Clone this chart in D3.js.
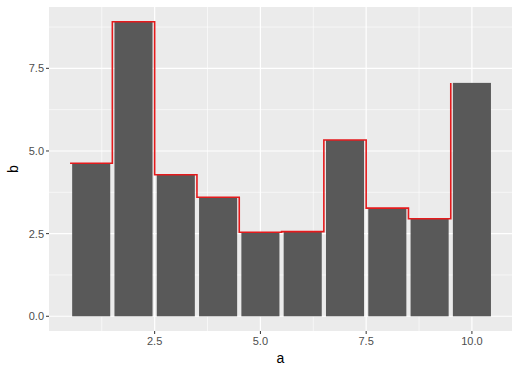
<!DOCTYPE html>
<html>
<head>
    <script src="https://cdnjs.cloudflare.com/ajax/libs/d3/7.8.5/d3.min.js"></script>
    <style>
        body { margin: 0; background: #fff; }
        text { font-family: "Liberation Sans", Arial, sans-serif; }
    </style>
</head>
<body>
    <svg id="chart" width="519" height="371"></svg>
    <script>
        // data
        var a = [1, 2, 3, 4, 5, 6, 7, 8, 9, 10]
        var b = [4.63, 8.91, 4.28, 3.60, 2.54, 2.56, 5.33, 3.27, 2.95, 7.06]
        var xTicks = [2.5, 5.0, 7.5, 10.0]
        var yTicks = [0.0, 2.5, 5.0, 7.5]
        var xMinor = [1.25, 3.75, 6.25, 8.75]
        var yMinor = [1.25, 3.75, 6.25, 8.75]

        var svg = d3.select("#chart")
        var panel = { left: 49, right: 512, top: 7, bottom: 331 }

        var x = d3.scaleLinear().domain([0.0025, 10.9475]).range([panel.left, panel.right])
        var y = d3.scaleLinear().domain([-0.4455, 9.3555]).range([panel.bottom, panel.top])

        svg.append("rect")
            .attr("x", panel.left).attr("y", panel.top)
            .attr("width", panel.right - panel.left)
            .attr("height", panel.bottom - panel.top)
            .style("fill", "#ebebeb")

        var grid = svg.append("g")
        grid.selectAll("line.ymin").data(yMinor).enter().append("line")
            .attr("x1", panel.left).attr("x2", panel.right)
            .attr("y1", d => y(d)).attr("y2", d => y(d))
            .style("stroke", "#fff").style("stroke-width", 0.6)
        grid.selectAll("line.xmin").data(xMinor).enter().append("line")
            .attr("y1", panel.top).attr("y2", panel.bottom)
            .attr("x1", d => x(d)).attr("x2", d => x(d))
            .style("stroke", "#fff").style("stroke-width", 0.6)
        grid.selectAll("line.ymaj").data(yTicks).enter().append("line")
            .attr("x1", panel.left).attr("x2", panel.right)
            .attr("y1", d => y(d)).attr("y2", d => y(d))
            .style("stroke", "#fff").style("stroke-width", 1.2)
        grid.selectAll("line.xmaj").data(xTicks).enter().append("line")
            .attr("y1", panel.top).attr("y2", panel.bottom)
            .attr("x1", d => x(d)).attr("x2", d => x(d))
            .style("stroke", "#fff").style("stroke-width", 1.2)

        // bars
        svg.append("g").selectAll("rect")
            .data(a)
            .enter().append("rect")
            .attr("x", (d, i) => x(d - 0.45))
            .attr("width", (d, i) => x(d + 0.45) - x(d - 0.45))
            .attr("y", (d, i) => y(b[i]))
            .attr("height", (d, i) => y(0) - y(b[i]))
            .style("fill", "#595959")

        // red step line, hv, starting at a - 0.5
        var step = d3.line()
            .x(d => x(d[0]))
            .y(d => y(d[1]))
            .curve(d3.curveStepAfter)
        svg.append("path")
            .datum(a.map((d, i) => [d - 0.5, b[i]]))
            .attr("d", step)
            .style("fill", "none")
            .style("stroke", "#e41a1c")
            .style("stroke-width", 1.6)

        // axes
        var xAxis = svg.append("g")
        xAxis.selectAll("line").data(xTicks).enter().append("line")
            .attr("x1", d => x(d)).attr("x2", d => x(d))
            .attr("y1", panel.bottom).attr("y2", panel.bottom + 3)
            .style("stroke", "#333").style("stroke-width", 1)
        xAxis.selectAll("text").data(xTicks).enter().append("text")
            .attr("x", d => x(d)).attr("y", panel.bottom + 14)
            .style("text-anchor", "middle")
            .style("font-size", "11px")
            .style("fill", "#4d4d4d")
            .text(d => d.toFixed(1))

        var yAxis = svg.append("g")
        yAxis.selectAll("line").data(yTicks).enter().append("line")
            .attr("x1", panel.left - 3).attr("x2", panel.left)
            .attr("y1", d => y(d)).attr("y2", d => y(d))
            .style("stroke", "#333").style("stroke-width", 1)
        yAxis.selectAll("text").data(yTicks).enter().append("text")
            .attr("x", panel.left - 5).attr("y", d => y(d) + 4)
            .style("text-anchor", "end")
            .style("font-size", "11px")
            .style("fill", "#4d4d4d")
            .text(d => d.toFixed(1))

        svg.append("text")
            .attr("x", (panel.left + panel.right) / 2).attr("y", 363)
            .style("text-anchor", "middle")
            .style("font-size", "14px")
            .style("fill", "#000")
            .text("a")

        svg.append("text")
            .attr("transform", `translate(18,${(panel.top + panel.bottom) / 2}) rotate(-90)`)
            .style("text-anchor", "middle")
            .style("font-size", "14px")
            .style("fill", "#000")
            .text("b")
    </script>
</body>
</html>
